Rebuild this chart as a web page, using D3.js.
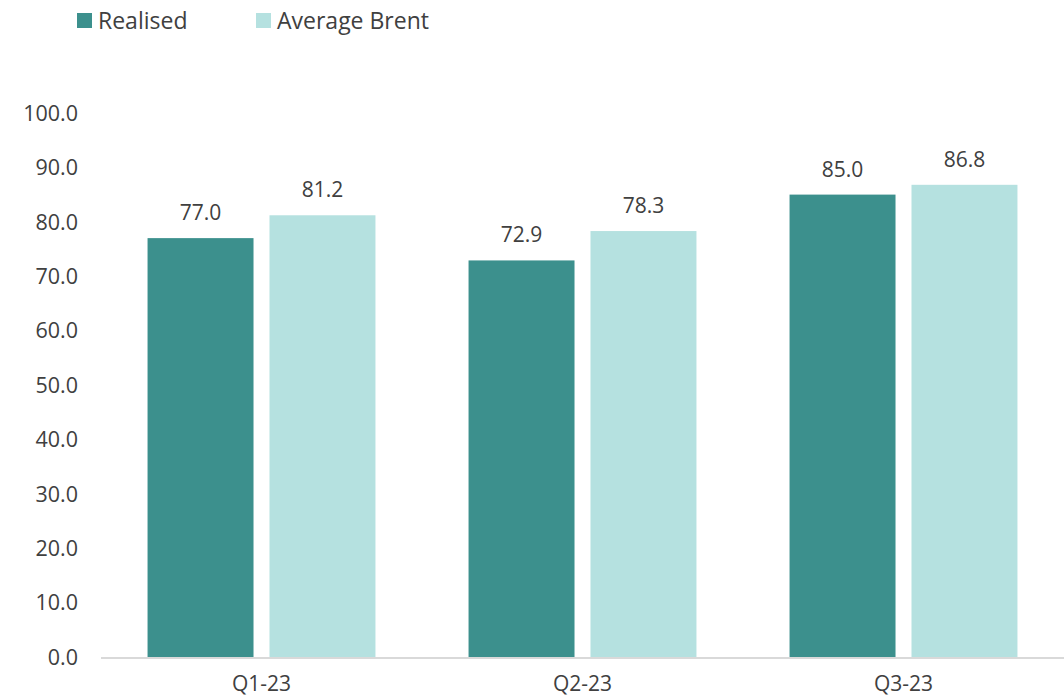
<!DOCTYPE html>
<html>
<head>
<meta charset="utf-8">
<script src="https://cdn.jsdelivr.net/npm/d3@7"></script>
<style>
  html, body { margin: 0; padding: 0; background: #fff; }
  svg text { font-family: "Open Sans", "Noto Sans", sans-serif; fill: #404040; }
</style>
</head>
<body>
<svg id="chart" width="1064" height="698"></svg>
<script>
// Quarterly oil prices
const quarters = ["Q1-23", "Q2-23", "Q3-23"];
const seriesNames = ["Realised", "Average Brent"];
const realised = [77.0, 72.9, 85.0];
const averageBrent = [81.2, 78.3, 86.8];
const yTicks = [0, 10, 20, 30, 40, 50, 60, 70, 80, 90, 100];
const colors = ["#3c908d", "#b5e1e0"];

const svg = d3.select("#chart");
const margin = { left: 101, right: 0, top: 113, bottom: 41 };
const W = 1064, H = 698;

const x0 = d3.scaleBand().domain(quarters)
  .range([margin.left, W - margin.right])
  .paddingInner(0.29).paddingOuter(0.145);
const x1 = d3.scaleBand().domain(seriesNames)
  .range([0, x0.bandwidth()]).paddingInner(0.131);
const y = d3.scaleLinear().domain([0, 100]).range([H - margin.bottom, margin.top]);

const rows = quarters.map((q, i) => ({ q, vals: [realised[i], averageBrent[i]] }));

// y tick labels
svg.append("g").selectAll("text").data(yTicks).join("text")
  .attr("x", 78).attr("y", d => y(d)).attr("dy", "0.36em")
  .attr("text-anchor", "end").attr("font-size", 21.5)
  .text(d => d.toFixed(1));

// bars
const groups = svg.append("g").selectAll("g").data(rows).join("g")
  .attr("transform", d => `translate(${x0(d.q)},0)`);
groups.selectAll("rect").data(d => d.vals.map((v, k) => ({ v, k })))
  .join("rect")
  .attr("x", d => x1(seriesNames[d.k]))
  .attr("width", x1.bandwidth())
  .attr("y", d => y(d.v))
  .attr("height", d => y(0) - y(d.v))
  .attr("fill", d => colors[d.k]);
groups.selectAll("text").data(d => d.vals.map((v, k) => ({ v, k })))
  .join("text")
  .attr("x", d => x1(seriesNames[d.k]) + x1.bandwidth() / 2)
  .attr("y", d => y(d.v) - 18)
  .attr("text-anchor", "middle").attr("font-size", 21)
  .text(d => d.v.toFixed(1));

// x axis baseline
svg.append("line")
  .attr("x1", margin.left).attr("x2", W)
  .attr("y1", y(0) + 1).attr("y2", y(0) + 1)
  .attr("stroke", "#d9d9d9").attr("stroke-width", 2);

// x axis labels
svg.append("g").selectAll("text").data(quarters).join("text")
  .attr("x", d => x0(d) + x0.bandwidth() / 2)
  .attr("y", H - 7)
  .attr("text-anchor", "middle").attr("font-size", 21)
  .text(d => d);

// legend
const legendX = [77, 256];
const leg = svg.append("g").selectAll("g").data(seriesNames).join("g")
  .attr("transform", (d, i) => `translate(${legendX[i]},13)`);
leg.append("rect").attr("width", 15).attr("height", 15)
  .attr("fill", (d, i) => colors[i]);
leg.append("text").attr("x", 21).attr("y", 7.5).attr("dy", "0.36em")
  .attr("font-size", 23).text(d => d);
</script>
</body>
</html>
